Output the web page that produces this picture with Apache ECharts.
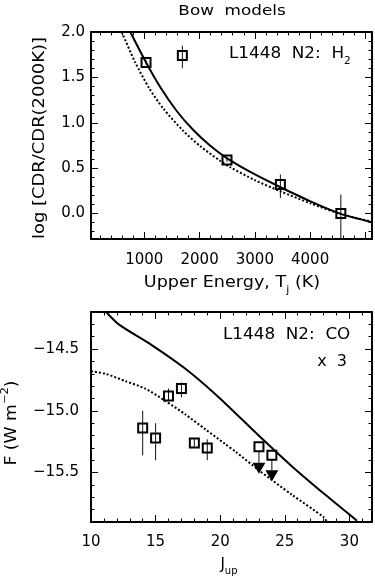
<!DOCTYPE html>
<html>
<head>
<meta charset="utf-8">
<script src="https://cdn.jsdelivr.net/npm/echarts@6/dist/echarts.min.js"></script>
<style>
  html, body { margin: 0; padding: 0; background: #fff; }
  #chart { width: 375px; height: 577px; }
</style>
</head>
<body>
<div id="chart"></div>
<script>
// ---- H2 panel (top) ----
const h2X = [1031, 1688, 2496, 3462, 4556];
const h2Y = [1.665, 1.74, 0.59, 0.32, 0.0];
const h2Lo = [1.64, 1.60, 0.57, 0.17, -0.42];
const h2Hi = [1.69, 1.85, 0.61, 0.43, 0.21];

// model curves: [Tj, log ratio]
const h2Solid = [[746, 2.0], [1030, 1.666], [1284, 1.396], [1586, 1.13], [1886, 0.92], [2188, 0.75],
  [2498, 0.609], [3003, 0.431], [3455, 0.293], [4007, 0.135], [4541, 0.0], [5120, -0.095]];
const h2Dotted = [[591, 2.0], [832, 1.669], [1085, 1.384], [1344, 1.156], [1696, 0.916], [2009, 0.744],
  [2371, 0.581], [2558, 0.509], [3005, 0.367], [3458, 0.246], [4009, 0.112], [4545, -0.002], [5120, -0.09]];

const h2XTicks = [1000, 2000, 3000, 4000, 5000];
const h2XLabels = [1000, 2000, 3000, 4000];
const h2YTicks = [0, 0.5, 1.0, 1.5, 2.0];

// ---- CO panel (bottom) ----
const coJ = [14, 15, 16, 17, 18, 19];
const coF = [-15.14, -15.22, -14.88, -14.82, -15.26, -15.30];
const coLo = [-15.36, -15.40, -14.92, -14.89, -15.29, -15.40];
const coHi = [-15.00, -15.10, -14.82, -14.77, -15.23, -15.23];

// upper limits: square value and arrow tip
const limJ = [23, 24];
const limF = [-15.29, -15.36];
const limTip = [-15.51, -15.57];

const coSolid = [[11.12, -14.194], [12.15, -14.30], [14.73, -14.47], [17.31, -14.66], [19.88, -14.89],
  [22.98, -15.20], [25.56, -15.45], [28.14, -15.68], [30.59, -15.89]];
const coDotted = [[10, -14.68], [11.12, -14.70], [12.67, -14.76], [14.2, -14.82], [15.76, -14.92],
  [17.31, -15.03], [18.86, -15.15], [20.4, -15.27], [21.18, -15.33], [22.98, -15.48],
  [25.56, -15.68], [28.0, -15.86], [28.27, -15.9]];

const coXTicks = [10, 15, 20, 25, 30];
const coYTicks = [-15.5, -15.0, -14.5];

function steps(from, to, step) {
  const out = [];
  for (let v = from; v <= to + step / 2; v += step) out.push(Math.round(v * 1000) / 1000);
  return out;
}
const h2XMinor = steps(200, 5000, 200);
const h2YMinor = steps(-0.2, 1.9, 0.1);
const coXMinor = steps(11, 31, 1);
const coYMinor = steps(-15.8, -14.3, 0.1);

const FONT = 'DejaVu Sans';
const minus = v => String(v).replace('-', '\u2212');

function axis(gridIndex, position, min, max, ticks, len, line, labels, fmt, margin) {
  return {
    type: 'value', gridIndex, position, min, max,
    axisLine: { show: line, onZero: false, lineStyle: { color: '#000', width: 2 } },
    axisTick: { show: true, inside: true, length: len, customValues: ticks,
      lineStyle: { color: '#000', width: 1 } },
    axisLabel: labels ? { show: true, customValues: labels, formatter: fmt, margin,
      color: '#000', fontFamily: FONT, fontSize: 15 } : { show: false },
    splitLine: { show: false },
    minorTick: { show: false }
  };
}

const fmt1 = v => minus(v.toFixed(1));

const xAxis = [
  axis(0, 'bottom', 35, 5120, h2XTicks, 7, true, h2XLabels, v => String(v), 14),
  axis(0, 'top', 35, 5120, h2XTicks, 7, true),
  axis(0, 'bottom', 35, 5120, h2XMinor, 3.5, false),
  axis(0, 'top', 35, 5120, h2XMinor, 3.5, false),
  axis(1, 'bottom', 10, 31.75, coXTicks, 7, true, coXTicks, v => String(v), 13),
  axis(1, 'top', 10, 31.75, coXTicks, 7, true),
  axis(1, 'bottom', 10, 31.75, coXMinor, 3.5, false),
  axis(1, 'top', 10, 31.75, coXMinor, 3.5, false)
];
const yAxis = [
  axis(0, 'left', -0.28, 2.0, h2YTicks, 7, true, h2YTicks, fmt1, 6),
  axis(0, 'right', -0.28, 2.0, h2YTicks, 7, true),
  axis(0, 'left', -0.28, 2.0, h2YMinor, 3.5, false),
  axis(0, 'right', -0.28, 2.0, h2YMinor, 3.5, false),
  axis(1, 'left', -15.9, -14.2, coYTicks, 7, true, coYTicks, fmt1, 12),
  axis(1, 'right', -15.9, -14.2, coYTicks, 7, true),
  axis(1, 'left', -15.9, -14.2, coYMinor, 3.5, false),
  axis(1, 'right', -15.9, -14.2, coYMinor, 3.5, false)
];

// square with vertical error bar
function renderPoint(params, api) {
  const c = api.coord([api.value(0), api.value(1)]);
  const lo = api.coord([api.value(0), api.value(2)]);
  const hi = api.coord([api.value(0), api.value(3)]);
  const s = 9;
  return {
    type: 'group',
    children: [
      { type: 'line', shape: { x1: lo[0], y1: lo[1], x2: hi[0], y2: hi[1] },
        style: { stroke: '#111', lineWidth: 1 } },
      { type: 'rect', shape: { x: c[0] - s / 2, y: c[1] - s / 2, width: s, height: s },
        style: { fill: 'none', stroke: '#000', lineWidth: 2 } }
    ]
  };
}

// square with downward arrow (upper limit)
function renderLimit(params, api) {
  const c = api.coord([api.value(0), api.value(1)]);
  const t = api.coord([api.value(0), api.value(2)]);
  const s = 9, th = 11, tw = 6.5;
  return {
    type: 'group',
    children: [
      { type: 'line', shape: { x1: c[0], y1: c[1] + s / 2, x2: t[0], y2: t[1] - th },
        style: { stroke: '#111', lineWidth: 1 } },
      { type: 'rect', shape: { x: c[0] - s / 2, y: c[1] - s / 2, width: s, height: s },
        style: { fill: 'none', stroke: '#000', lineWidth: 2 } },
      { type: 'polygon', shape: { points: [[t[0] - tw, t[1] - th], [t[0] + tw, t[1] - th], [t[0], t[1]]] },
        style: { fill: '#000' } }
    ]
  };
}

const curve = (data, xi, yi, dashed) => ({
  type: 'line', xAxisIndex: xi, yAxisIndex: yi, data,
  showSymbol: false, symbol: 'none', smooth: 0.25, clip: true,
  lineStyle: { color: '#000', width: 2, type: dashed ? [2, 2] : 'solid' },
  silent: true
});

const series = [
  curve(h2Solid, 0, 0, false),
  curve(h2Dotted, 0, 0, true),
  curve(coSolid, 4, 4, false),
  curve(coDotted, 4, 4, true),
  {
    type: 'custom', xAxisIndex: 0, yAxisIndex: 0, clip: true, renderItem: renderPoint,
    data: h2X.map((x, i) => [x, h2Y[i], h2Lo[i], h2Hi[i]])
  },
  {
    type: 'custom', xAxisIndex: 4, yAxisIndex: 4, clip: true, renderItem: renderPoint,
    data: coJ.map((x, i) => [x, coF[i], coLo[i], coHi[i]])
  },
  {
    type: 'custom', xAxisIndex: 4, yAxisIndex: 4, clip: true, renderItem: renderLimit,
    data: limJ.map((x, i) => [x, limF[i], limTip[i]])
  }
];

function txt(x, y, text, size, opts) {
  opts = opts || {};
  return {
    type: 'text', x, y, rotation: opts.rot || 0, scaleX: opts.sx || 1, silent: true,
    style: {
      text, fill: '#000', fontFamily: FONT, fontSize: size,
      align: opts.align || 'center', verticalAlign: 'middle',
      textAlign: opts.align || 'center', textVerticalAlign: 'middle',
      lineHeight: opts.lh || size + 4,
      rich: {
        sub: { fontFamily: FONT, fontSize: 10, lineHeight: 10, verticalAlign: 'bottom', fill: '#000' },
        sup: { fontFamily: FONT, fontSize: 10, lineHeight: 10, verticalAlign: 'top', fill: '#000' }
      }
    }
  };
}

const graphic = [
  txt(232, 11, 'Bow  models', 14, { sx: 1.2 }),
  txt(229, 54, 'L1448  N2:  H{sub|2}', 16, { align: 'left', lh: 24, sx: 1.05 }),
  txt(40, 138, 'log [CDR/CDR(2000K)]', 16, { rot: Math.PI / 2, sx: 1.12 }),
  txt(232, 283, 'Upper Energy, T{sub|j} (K)', 16, { sx: 1.1, lh: 24 }),
  txt(223, 335, 'L1448  N2:  CO', 16, { align: 'left', sx: 1.05 }),
  txt(347, 362, 'x  3', 16, { align: 'right' }),
  txt(12, 423, 'F (W m{sup|\u22122})', 15, { rot: Math.PI / 2, sx: 1.15, lh: 24 }),
  txt(229, 565, 'J{sub|up}', 15, { lh: 22 })
];

const chart = echarts.init(document.getElementById('chart'), null, { renderer: 'canvas' });
chart.setOption({
  animation: false,
  backgroundColor: '#fff',
  textStyle: { fontFamily: FONT },
  grid: [
    { left: 91, top: 32, width: 281, height: 207 },
    { left: 91, top: 312, width: 281, height: 210 }
  ],
  xAxis, yAxis, series, graphic
});
window.addEventListener('resize', () => chart.resize());
</script>
</body>
</html>
